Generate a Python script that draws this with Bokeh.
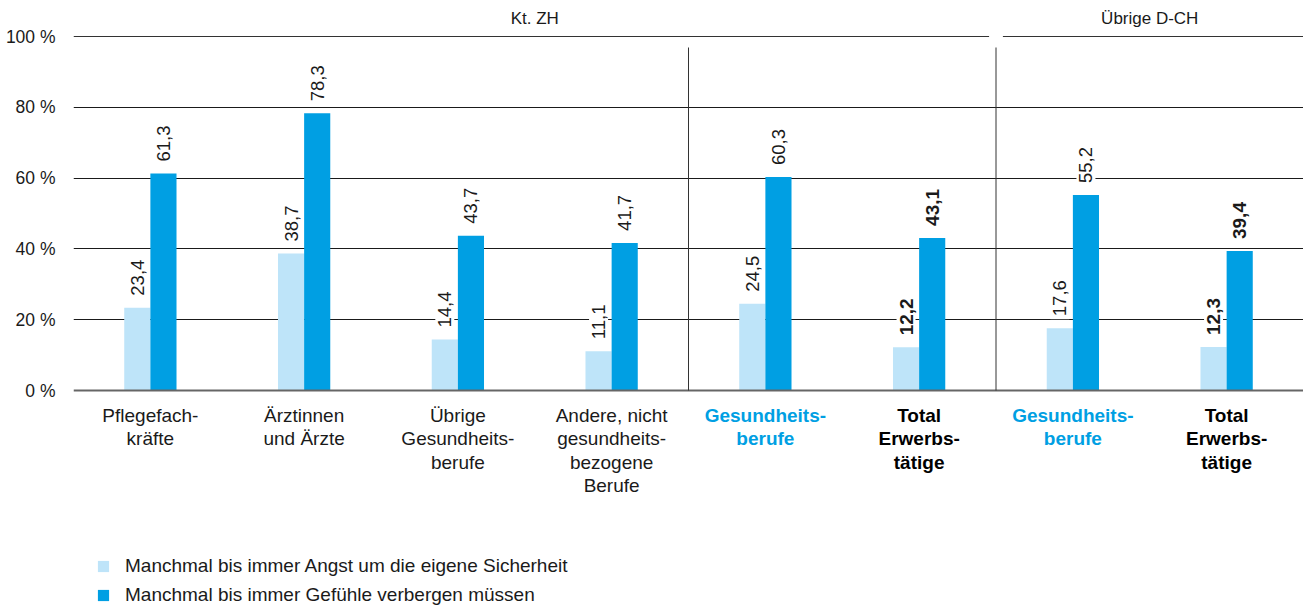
import math
from bokeh.plotting import figure
from bokeh.models import ColumnDataSource, Range1d, FixedTicker, Legend, LegendItem
from bokeh.core.properties import value
from bokeh.embed import file_html
from bokeh.resources import INLINE

# ---------------- data ----------------
categories = [
    "Pflegefach-\nkräfte",
    "Ärztinnen\nund Ärzte",
    "Übrige\nGesundheits-\nberufe",
    "Andere, nicht\ngesundheits-\nbezogene\nBerufe",
    "Gesundheits-\nberufe",
    "Total\nErwerbs-\ntätige",
    "Gesundheits-\nberufe",
    "Total\nErwerbs-\ntätige",
]
category_kind = ["normal", "normal", "normal", "normal", "health", "total", "health", "total"]
angst = [23.4, 38.7, 14.4, 11.1, 24.5, 12.2, 17.6, 12.3]
verbergen = [61.3, 78.3, 43.7, 41.7, 60.3, 43.1, 55.2, 39.4]
series_names = [
    "Manchmal bis immer Angst um die eigene Sicherheit",
    "Manchmal bis immer Gefühle verbergen müssen",
]
regions = ["Kt. ZH", "Übrige D-CH"]
region_sizes = [6, 2]          # number of categories per region
separator_after = [4, 6]       # category counts before vertical separators
y_ticks = [0, 20, 40, 60, 80, 100]
y_tick_labels = ["0 %", "20 %", "40 %", "60 %", "80 %", "100 %"]

# ---------------- style ----------------
FONT = "Liberation Sans"
LIGHT = "#BEE4F9"
DARK = "#009FE3"
TXT = "#1a1a1a"

W, H = 1303, 608
LEFT = 73
PX_PER_UNIT = 3.54
Y0_CANVAS = 390   # canvas y of 0 %
y_top = (Y0_CANVAS) / PX_PER_UNIT
y_bot = -(H - Y0_CANVAS) / PX_PER_UNIT

n = len(categories)
centers = [i + 0.5 for i in range(n)]
bw = 0.17

p = figure(width=W, height=H, x_range=Range1d(0, n), y_range=Range1d(y_bot, y_top),
           x_axis_location=None, toolbar_location=None, output_backend="svg",
           min_border_left=LEFT, min_border_right=0, min_border_top=0, min_border_bottom=0)
p.outline_line_color = None
p.background_fill_color = "white"
p.border_fill_color = "white"

# y axis
p.yaxis.ticker = FixedTicker(ticks=y_ticks)
p.yaxis.major_label_overrides = {t: l for t, l in zip(y_ticks, y_tick_labels)}
p.yaxis.axis_line_color = None
p.yaxis.major_tick_line_color = None
p.yaxis.minor_tick_line_color = None
p.yaxis.major_label_text_font = FONT
p.yaxis.major_label_text_font_size = "17.5px"
p.yaxis.major_label_text_color = TXT
p.yaxis.major_label_standoff = 12

p.xgrid.visible = False
p.ygrid.ticker = FixedTicker(ticks=[t for t in y_ticks if 0 < t < 100])
p.ygrid.grid_line_color = "#1a1a1a"
p.ygrid.grid_line_width = 1

# bars
src = ColumnDataSource(dict(
    xl=[c - bw / 2 for c in centers],
    xr=[c + bw / 2 for c in centers],
    a=angst, v=verbergen,
))
r1 = p.vbar(x="xl", top="a", bottom=0, width=bw, source=src, fill_color=LIGHT, line_color=None)
r2 = p.vbar(x="xr", top="v", bottom=0, width=bw, source=src, fill_color=DARK, line_color=None)

# zero line
p.segment(x0=[0], x1=[n], y0=[0], y1=[0], line_color="#666666", line_width=2)

# region header lines (100 % line) and titles
gap = 0.045
start = 0
hx0, hx1, hy, tx, tt = [], [], [], [], []
for name, size in zip(regions, region_sizes):
    s = start + (gap if start > 0 else 0)
    e = start + size - (gap if start + size < n else 0)
    hx0.append(s); hx1.append(e); hy.append(100)
    tx.append(start + size / 2); tt.append(name)
    start += size
p.segment(x0=hx0, x1=hx1, y0=hy, y1=hy, line_color="#333333", line_width=1)
p.text(x=tx, y=[100 + 18 / PX_PER_UNIT] * len(tx), text=tt, text_font=value(FONT),
       text_font_size="17px", text_color=TXT, text_align="center", text_baseline="middle")

# separators
p.segment(x0=separator_after, x1=separator_after, y0=[0] * len(separator_after),
          y1=[100 - 11 / PX_PER_UNIT] * len(separator_after), line_color="#333333", line_width=1)

# value labels
def fmt(v):
    return f"{v:.1f}".replace(".", ",")

off = 9 / PX_PER_UNIT
lx, ly, lt, lstyle, lsize = [], [], [], [], []
for i, c in enumerate(centers):
    bold = category_kind[i] == "total"
    for xx, vv in ((c - bw / 2, angst[i]), (c + bw / 2, verbergen[i])):
        lx.append(xx); ly.append(vv + off); lt.append(fmt(vv))
        lstyle.append("bold" if bold else "normal")
        lsize.append("19px" if bold else "18.5px")
lsrc = ColumnDataSource(dict(x=lx, y=ly, t=lt, st=lstyle, sz=lsize))
p.text(x="x", y="y", text="t", source=lsrc, angle=math.pi / 2, text_font=value(FONT),
       text_font_style="st", text_font_size="sz", text_color=TXT,
       text_align="left", text_baseline="middle",
       background_fill_color="white", padding=3)

# category labels
ccol = {"normal": TXT, "health": DARK, "total": "#000000"}
cstyle = {"normal": "normal", "health": "bold", "total": "bold"}
csrc = ColumnDataSource(dict(
    x=centers, y=[-14 / PX_PER_UNIT] * n, t=categories,
    c=[ccol[k] for k in category_kind], st=[cstyle[k] for k in category_kind],
))
p.text(x="x", y="y", text="t", source=csrc, text_font=value(FONT), text_font_size="19px",
       text_font_style="st", text_color="c", text_align="center", text_baseline="top",
       text_line_height=1.12)

# legend
legend = Legend(items=[LegendItem(label=series_names[0], renderers=[r1]),
                       LegendItem(label=series_names[1], renderers=[r2])],
                location=(23, 2), orientation="vertical", glyph_width=14, glyph_height=14,
                label_height=18, label_standoff=15, spacing=7, padding=0, margin=0,
                border_line_color=None, background_fill_alpha=0,
                label_text_font=FONT, label_text_font_size="19px", label_text_color=TXT)
p.add_layout(legend)

open("out.html", "w").write(file_html(p, INLINE))
